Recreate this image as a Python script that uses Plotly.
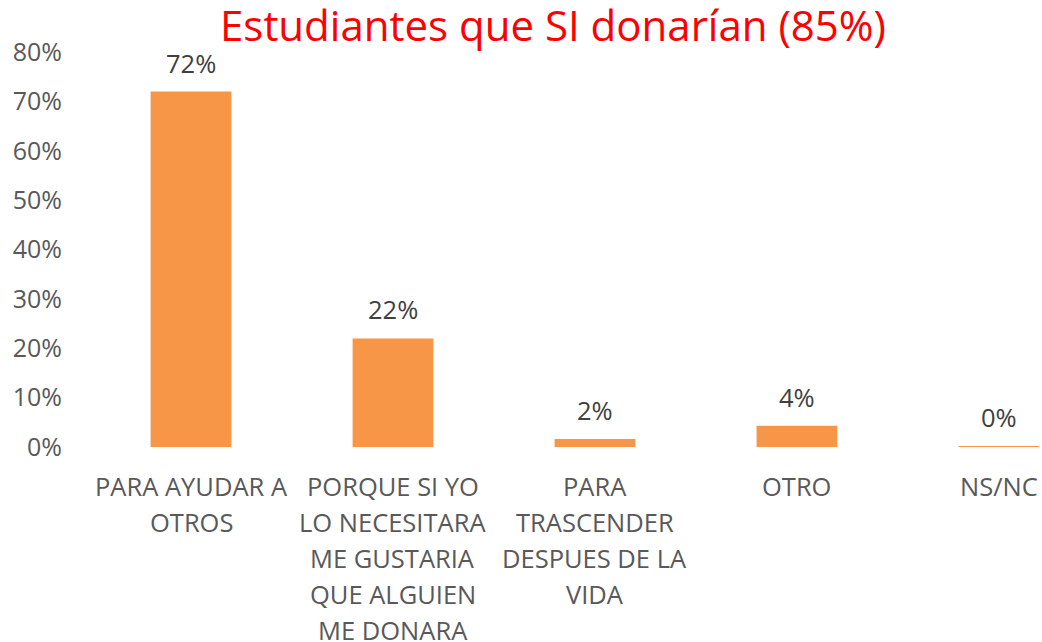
import plotly.graph_objects as go

categories = ["PARA AYUDAR A OTROS",
              "PORQUE SI YO LO NECESITARA ME GUSTARIA QUE ALGUIEN ME DONARA",
              "PARA TRASCENDER DESPUES DE LA VIDA",
              "OTRO",
              "NS/NC"]
label_lines = [["PARA AYUDAR A", "OTROS"],
               ["PORQUE SI YO", "LO NECESITARA", "ME GUSTARIA", "QUE ALGUIEN", "ME DONARA"],
               ["PARA", "TRASCENDER", "DESPUES DE LA", "VIDA"],
               ["OTRO"],
               ["NS/NC"]]
values = [0.72, 0.22, 0.016, 0.043, 0.002]
y_ticks = [0, 0.1, 0.2, 0.3, 0.4, 0.5, 0.6, 0.7, 0.8]
title_text = "Estudiantes que SI donarían (85%)"

FONT = "Open Sans, sans-serif"
x_idx = list(range(len(categories)))

fig = go.Figure()
fig.add_trace(go.Bar(x=x_idx, y=values, width=0.40,
                     marker=dict(color="#F79646", line=dict(width=0)),
                     hoverinfo="skip"))

annotations = []
for i, v in enumerate(values):
    annotations.append(dict(x=i, y=v, xref="x", yref="y", text=f"{v:.0%}",
                            showarrow=False, yanchor="middle", yshift=29,
                            font=dict(family=FONT, size=25.5, color="#404040")))
    for j, line in enumerate(label_lines[i]):
        annotations.append(dict(x=i, y=0, xref="x", yref="y", text=line,
                                showarrow=False, yanchor="middle",
                                yshift=-39 - 36 * j,
                                font=dict(family=FONT, size=25.5, color="#595959")))

fig.update_layout(
    width=1042, height=642,
    margin=dict(l=90, r=0, t=52, b=195),
    paper_bgcolor="white", plot_bgcolor="white",
    showlegend=False,
    title=dict(text=title_text, x=553 / 1042, xanchor="center", xref="container",
               y=1 - 26 / 642, yanchor="middle", yref="container",
               font=dict(family=FONT, size=42, color="#FF0000")),
    xaxis=dict(range=[-0.5, 4.213], showticklabels=False, showgrid=False,
               zeroline=False, showline=False, ticks=""),
    yaxis=dict(range=[0, 0.8], tickvals=y_ticks, tickformat=".0%",
               showgrid=False, zeroline=False, showline=False, ticks="",
               ticklabelstandoff=27,
               tickfont=dict(family=FONT, size=25, color="#595959")),
    annotations=annotations,
)

fig.write_html("out.html",
               config={"displayModeBar": False},
               post_script="document.body.style.margin='0';"
                           "document.body.style.overflow='hidden';")
